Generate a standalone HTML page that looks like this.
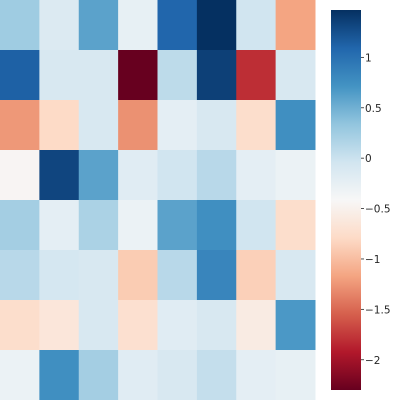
<!DOCTYPE html>
<html><head><meta charset="utf-8"><style>
html,body{margin:0;padding:0;background:#fff;width:400px;height:400px;overflow:hidden}
svg{display:block;font-family:"DejaVu Sans","Liberation Sans",sans-serif}
</style></head><body>
<svg id="chart" width="400" height="400">
<defs><linearGradient id="cbg" x1="0" y1="1" x2="0" y2="0"></linearGradient></defs>
<g id="cells"></g>
<g id="cbar"></g>
</svg>
<script>
const rows = [0,1,2,3,4,5,6,7];
const cols = [0,1,2,3,4,5,6,7];
const values = [
 [0.26,-0.15,0.60,-0.26,1.09,1.47,-0.04,-1.17],
 [1.13,-0.11,-0.11,-2.30,0.08,1.36,-1.81,-0.11],
 [-1.24,-0.79,-0.11,-1.28,-0.23,-0.11,-0.75,0.75],
 [-0.45,1.32,0.60,-0.19,-0.04,0.11,-0.23,-0.30],
 [0.23,-0.23,0.19,-0.30,0.60,0.75,-0.04,-0.75],
 [0.11,-0.08,-0.11,-0.90,0.11,0.83,-0.87,-0.11],
 [-0.75,-0.64,-0.11,-0.72,-0.19,-0.11,-0.57,0.68],
 [-0.30,0.75,0.23,-0.19,-0.11,0.04,-0.23,-0.26]
];
const tickValues = [1,0.5,0,-0.5,-1,-1.5,-2];
const tickLabels = ["1","0.5","0","\u22120.5","\u22121","\u22121.5","\u22122"];
const vmin = -2.3, vmax = 1.47;
const stops = ["#67001f","#b2182b","#d6604d","#f4a582","#fddbc7","#f7f7f7","#d1e5f0","#92c5de","#4393c3","#2166ac","#053061"];
function hex(h){return [1,3,5].map(i=>parseInt(h.substr(i,2),16));}
function cmap(v){
  let t=Math.max(0,Math.min(1,(v-vmin)/(vmax-vmin)))*(stops.length-1);
  let i=Math.min(stops.length-2,Math.floor(t)),f=t-i;
  let a=hex(stops[i]),b=hex(stops[i+1]);
  return "rgb("+a.map((x,k)=>Math.round(x+(b[k]-x)*f)).join(",")+")";
}
const NS="http://www.w3.org/2000/svg";
const W=315,H=400,cw=W/cols.length,ch=H/rows.length;
const xScale=c=>c*cw, yScale=r=>r*ch;
const cells=document.getElementById("cells");
rows.forEach(r=>cols.forEach(c=>{
  const e=document.createElementNS(NS,"rect");
  e.setAttribute("x",xScale(c));e.setAttribute("y",yScale(r));
  e.setAttribute("width",cw+0.5);e.setAttribute("height",ch+0.5);
  e.setAttribute("fill",cmap(values[r][c]));
  
  
  cells.appendChild(e);
}));
const g=document.getElementById("cbg");
stops.forEach((s,i)=>{const st=document.createElementNS(NS,"stop");st.setAttribute("offset",i/(stops.length-1));st.setAttribute("stop-color",s);g.appendChild(st);});
const cb=document.getElementById("cbar");
const cbX=331,cbY=10,cbW=30,cbH=380;
const cy=v=>cbY+cbH*(vmax-v)/(vmax-vmin);
const rect=document.createElementNS(NS,"rect");
rect.setAttribute("x",cbX);rect.setAttribute("y",cbY);rect.setAttribute("width",cbW);rect.setAttribute("height",cbH);rect.setAttribute("fill","url(#cbg)");


cb.appendChild(rect);
tickValues.forEach((v,i)=>{
  const y=cy(v);
  const l=document.createElementNS(NS,"line");
  l.setAttribute("x1",cbX+cbW);l.setAttribute("x2",cbX+cbW+3);l.setAttribute("y1",y);l.setAttribute("y2",y);l.setAttribute("stroke","#262626");l.setAttribute("stroke-width","0.8");
  
  
  cb.appendChild(l);
  const t=document.createElementNS(NS,"text");
  t.setAttribute("x",cbX+cbW+4);t.setAttribute("y",y+4);t.setAttribute("font-size","10.5");t.setAttribute("fill","#262626");
  t.textContent=tickLabels[i];
  
  
  cb.appendChild(t);
});
</script>
</body></html>
